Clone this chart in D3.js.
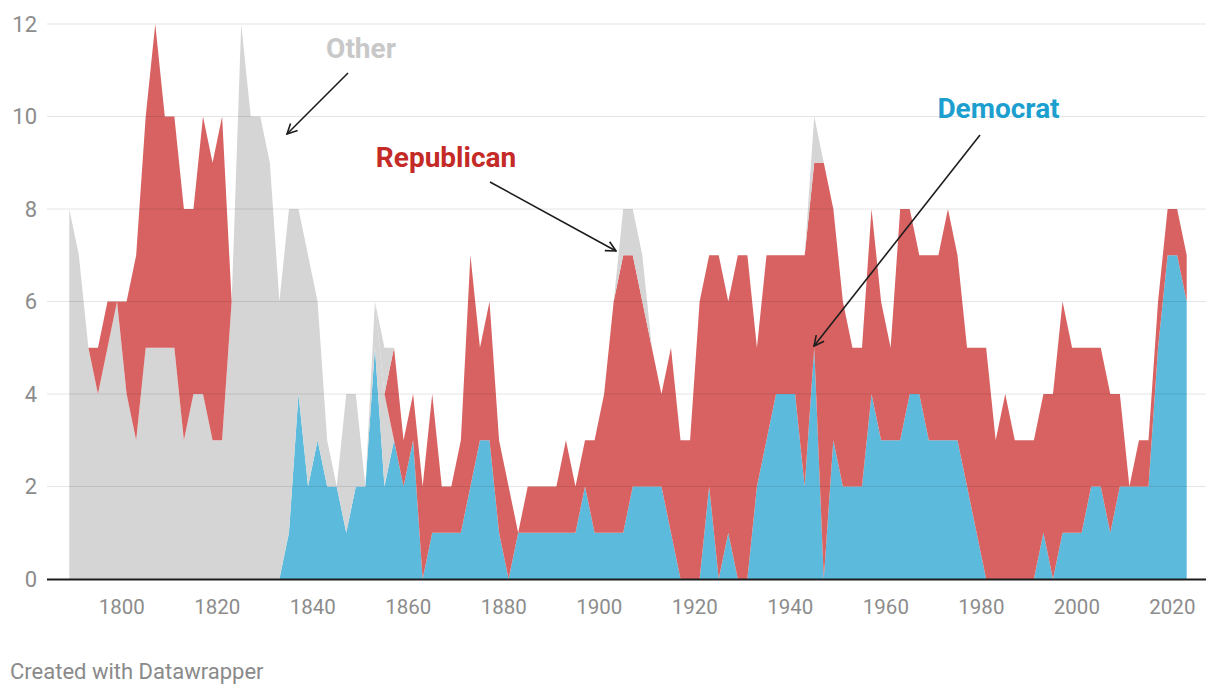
<!DOCTYPE html>
<html><head><meta charset="utf-8">
<script src="https://cdn.jsdelivr.net/npm/d3@7"></script>
<style>
body{margin:0;background:#fff;}
svg{display:block;font-family:Roboto,"Noto Sans",sans-serif;}
</style></head>
<body><svg id="c" width="1220" height="696"></svg>
<script>
// Two-year steps (odd years) 1789..2023
const years = d3.range(1789, 2024, 2);
const democrat = [0,0,0,0,0,0,0,0,0,0,0,0,0,0,0,0,0,0,0,0,0,0,0,1,4,2,3,2,2,1,2,2,5,2,3,2,3,0,1,1,1,1,2,3,3,1,0,1,1,1,1,1,1,1,2,1,1,1,1,2,2,2,2,1,0,0,0,2,0,1,0,0,2,3,4,4,4,2,5,0,3,2,2,2,4,3,3,3,4,4,3,3,3,3,2,1,0,0,0,0,0,0,1,0,1,1,1,2,2,1,2,2,2,2,5,7,7,6];
const otherLow = [8,7,5,4,5,6,4,3,5,5,5,5,3,4,4,3,3,6,12,10,10,9,6,7,4,5,3,1,0,3,2,0,1,2,0,0,0,0,0,0,0,0,0,0,0,0,0,0,0,0,0,0,0,0,0,0,0,0,0,0,0,0,0,0,0,0,0,0,0,0,0,0,0,0,0,0,0,0,0,0,0,0,0,0,0,0,0,0,0,0,0,0,0,0,0,0,0,0,0,0,0,0,0,0,0,0,0,0,0,0,0,0,0,0,0,0,0,0];
const republican = [0,0,0,1,1,0,2,4,5,7,5,5,5,4,6,6,7,0,0,0,0,0,0,0,0,0,0,0,0,0,0,0,0,0,2,1,1,2,3,1,1,2,5,2,3,2,2,0,1,1,1,1,2,1,1,2,3,5,6,5,4,3,2,4,3,3,6,5,7,5,7,7,3,4,3,3,3,5,4,9,5,4,3,3,4,3,2,5,4,3,4,4,5,4,3,4,5,3,4,3,3,3,3,4,5,4,4,3,3,3,2,0,1,1,1,1,1,1];
const otherHigh = [0,0,0,0,0,0,0,0,0,0,0,0,0,0,0,0,0,0,0,0,0,0,0,0,0,0,0,0,0,0,0,0,0,1,0,0,0,0,0,0,0,0,0,0,0,0,0,0,0,0,0,0,0,0,0,0,0,0,1,1,1,0,0,0,0,0,0,0,0,0,0,0,0,0,0,0,0,0,1,0,0,0,0,0,0,0,0,0,0,0,0,0,0,0,0,0,0,0,0,0,0,0,0,0,0,0,0,0,0,0,0,0,0,0,0,0,0,0];
const xTicks = [1800,1820,1840,1860,1880,1900,1920,1940,1960,1980,2000,2020];
const yTicks = [0,2,4,6,8,10,12];
const labels = [
  {text:"Other", color:"#c8c8c8"},
  {text:"Republican", color:"#c42a26"},
  {text:"Democrat", color:"#1c9fcf"}
];

const rows = years.map((y,i)=>({year:y, dem:democrat[i], otherLow:otherLow[i], rep:republican[i], otherHigh:otherHigh[i]}));
const keys = ["dem","otherLow","rep","otherHigh"];
const fills = {dem:"#5cbbdc", otherLow:"#d5d5d5", rep:"#d86262", otherHigh:"#d5d5d5"};

const svg = d3.select("#c");
const x = d3.scaleLinear().domain([1789,2023]).range([69.3,1186.7]);
const y = d3.scaleLinear().domain([0,12]).range([579,24]);
const L = 47, R = 1206;

const series = d3.stack().keys(keys)(rows);
const area = d3.area().x(d=>x(d.data.year)).y0(d=>y(d[0])).y1(d=>y(d[1]));
svg.append("g").selectAll("path").data(series).join("path")
  .attr("d", area).attr("fill", d=>fills[d.key]);

// gridlines
svg.append("g").selectAll("line").data(yTicks.filter(t=>t>0)).join("line")
  .attr("x1",L).attr("x2",R).attr("y1",d=>y(d)).attr("y2",d=>y(d))
  .attr("stroke","rgba(0,0,0,0.1)").attr("stroke-width",1);
// baseline
svg.append("line").attr("x1",L).attr("x2",R).attr("y1",y(0)+0.5).attr("y2",y(0)+0.5)
  .attr("stroke","#1d1d1d").attr("stroke-width",2);

// y labels
svg.append("g").selectAll("text").data(yTicks).join("text")
  .attr("x",37).attr("y",d=>y(d)).attr("dy","0.36em").attr("text-anchor","end")
  .attr("fill","#8c8c8c").attr("font-size",22).text(d=>d);
// x labels
svg.append("g").selectAll("text").data(xTicks).join("text")
  .attr("x",d=>x(d)).attr("y",614).attr("text-anchor","middle")
  .attr("fill","#8c8c8c").attr("font-size",20.5).text(d=>d);

// credit
svg.append("text").attr("x",10).attr("y",679).attr("fill","#8a8a8a").attr("font-size",22)
  .text("Created with Datawrapper");

// arrows
const defs = svg.append("defs");
defs.append("marker").attr("id","ah").attr("viewBox","0 0 12 12").attr("refX",11).attr("refY",6)
  .attr("markerWidth",12).attr("markerHeight",12).attr("markerUnits","userSpaceOnUse").attr("orient","auto")
  .append("path").attr("d","M1,1 L11,6 L1,11").attr("fill","none").attr("stroke","#1d1d1d").attr("stroke-width",1.6);
const arrows = [
  {x1:348,y1:73,x2:287,y2:134},
  {x1:490,y1:182,x2:616,y2:251},
  {x1:980,y1:135,x2:814,y2:346}
];
svg.append("g").selectAll("line").data(arrows).join("line")
  .attr("x1",d=>d.x1).attr("y1",d=>d.y1).attr("x2",d=>d.x2).attr("y2",d=>d.y2)
  .attr("stroke","#1d1d1d").attr("stroke-width",1.6).attr("marker-end","url(#ah)");

const pos = [{x:361,y:58},{x:446,y:167},{x:998.5,y:118}];
svg.append("g").selectAll("text").data(labels).join("text")
  .attr("x",(d,i)=>pos[i].x).attr("y",(d,i)=>pos[i].y).attr("text-anchor","middle")
  .attr("font-size",28).attr("font-weight",700).attr("fill",d=>d.color).text(d=>d.text);
</script></body></html>
